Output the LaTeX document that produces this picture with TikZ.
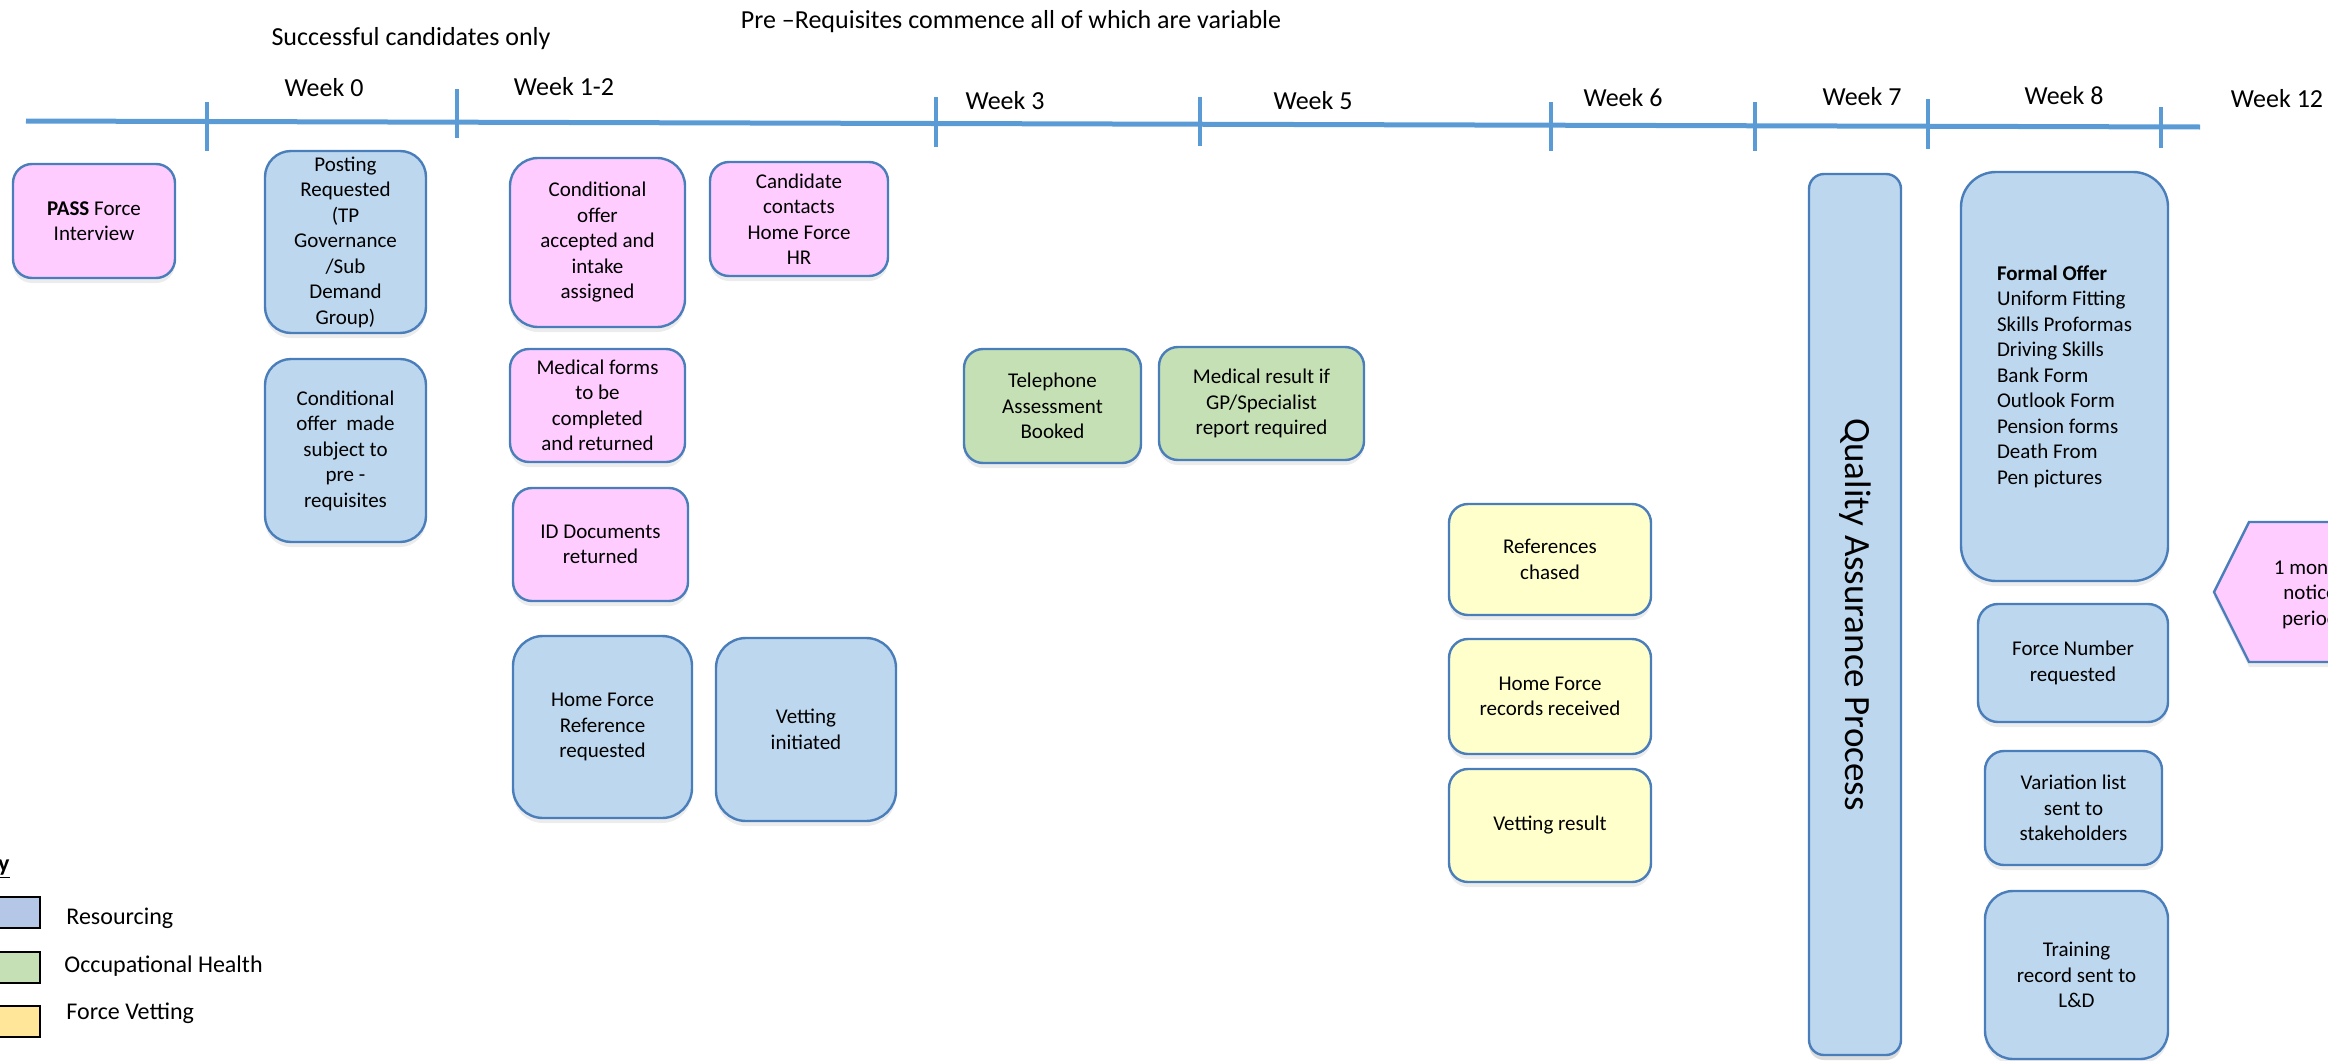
\documentclass[tikz,border=0pt]{standalone}
\usepackage{fontspec}
\setmainfont{Carlito}
\usetikzlibrary{shadows}

\definecolor{resblue}{HTML}{BDD7EE}
\definecolor{ohgreen}{HTML}{C5E0B4}
\definecolor{candpink}{HTML}{FFCCFF}
\definecolor{vetyellow}{HTML}{FFFFCC}
\definecolor{edgeblue}{HTML}{4A7EBB}
\definecolor{lineblue}{HTML}{5B9BD5}
\definecolor{keyblue}{HTML}{B4C7E7}
\definecolor{keyyellow}{HTML}{FFE699}

\begin{document}
\begin{tikzpicture}[x=0.5pt,y=-0.5pt]
\tikzstyle{card}=[draw=edgeblue,line width=1.2pt,align=center,inner sep=2pt,font=\fontsize{10.5}{12.75}\selectfont,drop shadow={shadow xshift=0pt,shadow yshift=-2.5pt,opacity=0.15}];
\tikzstyle{bluecard}=[card,fill=resblue];
\tikzstyle{pinkcard}=[card,fill=candpink];
\tikzstyle{greencard}=[card,fill=ohgreen];
\tikzstyle{yellowcard}=[card,fill=vetyellow];
\tikzstyle{week}=[font=\fontsize{13}{15}\selectfont];
\tikzstyle{keybox}=[draw=black,line width=1pt,minimum width=28pt,minimum height=15.5pt,inner sep=0pt];
\tikzstyle{keytext}=[anchor=west,inner sep=0pt,font=\fontsize{12}{14}\selectfont];
\useasboundingbox (0,0) rectangle (2328,1060);

% headings
\node[week] (successful) at (411,39) {Successful candidates only};
\node[week] (prereq) at (1011,22) {Pre –Requisites commence all of which are variable};

% timeline
\coordinate (tlstart) at (26,121);
\coordinate (tlend) at (2200,127);
\draw[lineblue,line width=2.5pt] (tlstart) -- (tlend);
\foreach \x/\ya/\yb in {207/102/151,457/89/138,936/97/147,1200/97/146,1551/102/151,1755/102/151,1928/99/149,2161/107/148}
	\draw[lineblue,line width=2.2pt] (\x,\ya) -- (\x,\yb);
\foreach \name/\wx/\wy/\txt in {wk0/324/88/Week 0,wk12a/564/87/Week 1-2,wk3/1005/101/Week 3,wk5/1313/101/Week 5,wk6/1623/98/Week 6,wk7/1862/97/Week 7,wk8/2064/96/Week 8,wk12/2277/99/Week 12}
	\node[week] (\name) at (\wx,\wy) {\txt};

% week 0
\node[pinkcard,minimum width=81pt,minimum height=57pt,rounded corners=9.5pt] (pass) at (94,221) {\textbf{PASS} Force\\Interview};
\node[bluecard,minimum width=80.5pt,minimum height=91pt,rounded corners=13pt] (posting) at (345.5,242) {Posting\\Requested\\(TP\\Governance\\/Sub\\Demand\\Group)};
\node[bluecard,minimum width=80.5pt,minimum height=91.5pt,rounded corners=13pt] (condmade) at (345.5,450.5) {Conditional\\offer\ \ made\\subject to\\pre -\\requisites};

% week 1-2
\node[pinkcard,minimum width=87.5pt,minimum height=84.5pt,rounded corners=14pt] (condacc) at (597.5,242.5) {Conditional\\offer\\accepted and\\intake\\assigned};
\node[pinkcard,minimum width=89pt,minimum height=57pt,rounded corners=9.5pt] (contacts) at (799,219) {Candidate\\contacts\\Home Force\\HR};
\node[pinkcard,minimum width=87.5pt,minimum height=56.5pt,rounded corners=9.5pt] (medforms) at (597.5,405.5) {Medical forms\\to be\\completed\\and returned};
\node[pinkcard,minimum width=87.5pt,minimum height=56.5pt,rounded corners=9.5pt] (iddocs) at (600.5,544.5) {ID Documents\\returned};
\node[bluecard,minimum width=89.5pt,minimum height=91pt,rounded corners=15pt] (homeref) at (602.5,727) {Home Force\\Reference\\requested};
\node[bluecard,minimum width=90pt,minimum height=91.5pt,rounded corners=15pt] (vetinit) at (806,729.5) {Vetting\\initiated};

% week 3 - 5
\node[greencard,minimum width=88.5pt,minimum height=57pt,rounded corners=9.5pt] (phone) at (1052.5,406) {Telephone\\Assessment\\Booked};
\node[greencard,minimum width=102.5pt,minimum height=56.5pt,rounded corners=9.5pt] (medresult) at (1261.5,403.5) {Medical result if\\GP/Specialist\\report required};

% week 6
\node[yellowcard,minimum width=101pt,minimum height=55.5pt,rounded corners=9.5pt] (refs) at (1550,559.5) {References\\chased};
\node[yellowcard,minimum width=101pt,minimum height=57.5pt,rounded corners=9.5pt] (records) at (1550,696.5) {Home Force\\records received};
\node[yellowcard,minimum width=101pt,minimum height=56.5pt,rounded corners=9.5pt] (vetres) at (1550,825.5) {Vetting result};

% week 7 - 8
\node[bluecard,rotate=-90,minimum width=440.5pt,minimum height=46pt,rounded corners=7.5pt,font=\fontsize{18.5}{22}\selectfont,drop shadow={shadow xshift=0pt,shadow yshift=-2.5pt,opacity=0.15}] (qa) at (1855,614.5) {Quality Assurance Process};
\node[bluecard,align=left,minimum width=103.5pt,minimum height=204.5pt,rounded corners=17.5pt] (formal) at (2064.5,376.5) {\textbf{Formal Offer}\\Uniform Fitting\\Skills Proformas\\Driving Skills\\Bank Form\\Outlook Form\\Pension forms\\Death From\\Pen pictures};
\node[bluecard,minimum width=95pt,minimum height=59pt,rounded corners=10pt] (forcenum) at (2073,663) {Force Number\\requested};
\node[bluecard,minimum width=88.5pt,minimum height=57pt,rounded corners=9.5pt] (variation) at (2073.5,808) {Variation list\\sent to\\stakeholders};
\node[bluecard,minimum width=91.5pt,minimum height=84pt,rounded corners=14pt] (training) at (2076.5,975) {Training\\record sent to\\L\&D};

% notice period
\filldraw[fill=candpink,draw=edgeblue,line width=1.2pt,drop shadow={shadow xshift=0pt,shadow yshift=-2.5pt,opacity=0.15}] (2214,592) -- (2249,522) -- (2420,522) -- (2420,662) -- (2249,662) -- cycle;
\node[align=center,font=\fontsize{10.5}{12.75}\selectfont] (notice) at (2310,594) {1 month\\notice\\period};

% key
\node[anchor=base east,inner sep=0pt,font=\fontsize{12}{14}\selectfont] (key) at (10,871) {\underline{\textbf{Key}}};
\node[keybox,fill=keyblue] (keyres) at (12,912.5) {};
\node[keybox,fill=ohgreen] (keyoh) at (12,967) {};
\node[keybox,fill=keyyellow] (keyvet) at (12,1021) {};
\node[keytext] (keyrestxt) at (66,918) {Resourcing};
\node[keytext] (keyohtxt) at (64,966) {Occupational Health};
\node[keytext] (keyvettxt) at (66,1013) {Force Vetting};
\end{tikzpicture}
\end{document}
